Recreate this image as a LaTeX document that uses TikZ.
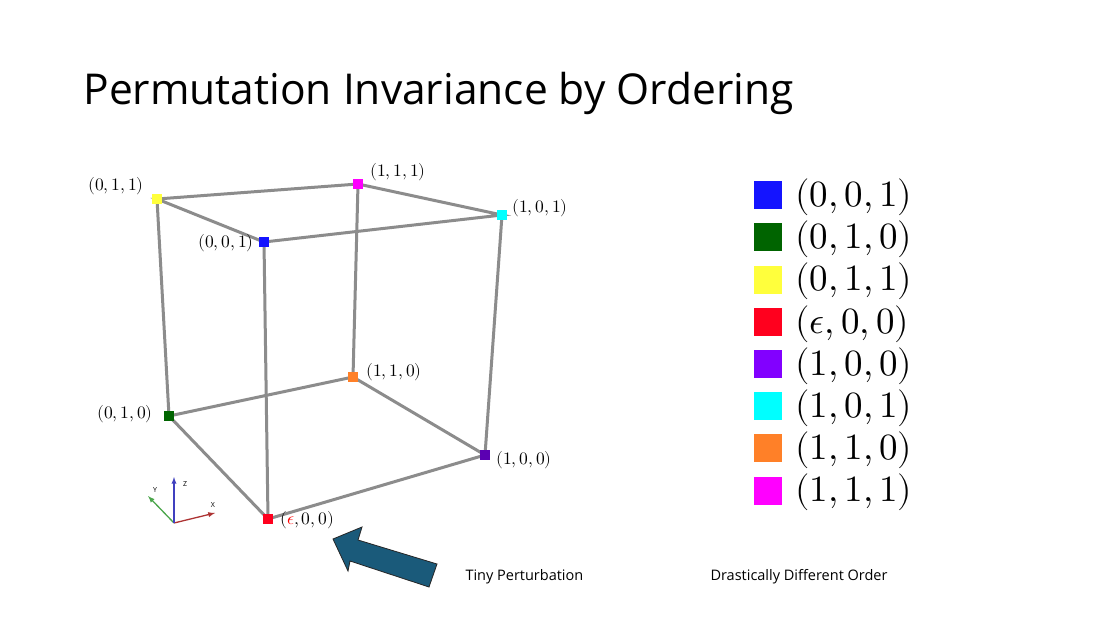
\documentclass[tikz,border=0pt]{standalone}
\usepackage{fontspec}
\usepackage{unicode-math}
\setmathfont{Latin Modern Math}
\setsansfont{Open Sans}
\definecolor{cY}{RGB}{255,255,60}\definecolor{cM}{RGB}{255,0,255}\definecolor{cC}{RGB}{0,255,255}
\definecolor{cB}{RGB}{20,20,255}\definecolor{cO}{RGB}{255,128,40}\definecolor{cG}{RGB}{0,100,0}
\definecolor{cP}{RGB}{130,0,255}\definecolor{cR}{RGB}{255,0,30}\definecolor{cA}{RGB}{26,90,122}
\begin{document}
\begin{tikzpicture}[x=1pt,y=-1pt,
  edge/.style={draw=black!45,line width=3pt},
  pt/.style={minimum size=10pt,inner sep=0pt,draw=none},
  lab/.style={font=\fontsize{17.5}{19}\selectfont,inner sep=1pt},
  leg/.style={minimum size=28pt,inner sep=0pt},
  legt/.style={font=\fontsize{37}{40}\selectfont,anchor=west,inner sep=0pt}]
\path[use as bounding box,fill=white] (0,0) rectangle (1100,618);
\node[anchor=west,font=\sffamily\fontsize{42.5}{46}\selectfont] (title) at (80,93) {Permutation Invariance by Ordering};
\coordinate (Y) at (157,199); \coordinate (M) at (358,184); \coordinate (C) at (502,215); \coordinate (B) at (264,242);
\coordinate (O) at (353,377); \coordinate (G) at (169,416); \coordinate (P) at (485,455); \coordinate (R) at (268,519);
\draw[edge] (Y)--(M)--(C)--(B)--cycle;
\draw[edge] (G)--(O)--(P)--(R)--cycle;
\draw[edge] (Y)--(G) (M)--(O) (C)--(P) (B)--(R);
\node[pt,fill=cY] (y) at (Y) {}; \node[pt,fill=cM] (m) at (M) {}; \node[pt,fill=cC] (c) at (C) {};
\node[pt,fill=cB] (b) at (B) {}; \node[pt,fill=cO] (o) at (O) {}; \node[pt,fill=cG] (g) at (G) {};
\node[pt,fill=cP!70!black] (p) at (P) {}; \node[pt,fill=cR] (r) at (R) {};
\node[lab,anchor=east] (ly) at (145,186) {$(0,1,1)$};
\node[lab,anchor=west] (lm) at (369,172) {$(1,1,1)$};
\node[lab,anchor=west] (lc) at (511,208) {$(1,0,1)$};
\node[lab,anchor=east] (lb) at (255,243) {$(0,0,1)$};
\node[lab,anchor=west] (lo) at (365,372) {$(1,1,0)$};
\node[lab,anchor=east] (lg) at (154,414) {$(0,1,0)$};
\node[lab,anchor=west] (lp) at (495,460) {$(1,0,0)$};
\node[lab,anchor=west] (lr) at (279,520) {$(\textcolor{red}{\epsilon},0,0)$};
% axes
\coordinate (ax) at (174,523);
\coordinate (axx) at (215,513); \coordinate (axy) at (148,496); \coordinate (axz) at (174,477);
\draw[-latex,red!60!black!80,line width=1.3pt] (ax)--(axx);
\draw[-latex,green!50!black!70,line width=1.3pt] (ax)--(axy);
\draw[-latex,blue!50!gray,line width=1.3pt] (ax)--(axz);
\node[font=\sffamily\fontsize{7}{8}\selectfont] (tx) at (213,505) {X};
\node[font=\sffamily\fontsize{7}{8}\selectfont] (ty) at (155,490) {Y};
\node[font=\sffamily\fontsize{7}{8}\selectfont] (tz) at (185,484) {Z};
% block arrow
\draw[fill=cA,draw=black!85,line width=0.8pt] (333,539)--(362,527)--(358,540)--(437,564)--(429,587)--(350,561)--(348,571)--cycle;
\node[anchor=west,font=\sffamily\fontsize{14.5}{17}\selectfont] (tp) at (462,577) {Tiny Perturbation};
\node[anchor=west,font=\sffamily\fontsize{14.5}{17}\selectfont] (dd) at (707,577) {Drastically Different Order};
% legend
\foreach \c/\t [count=\i] in {cB/{(0,0,1)},cG/{(0,1,0)},cY/{(0,1,1)},cR/{(\epsilon,0,0)},cP/{(1,0,0)},cC/{(1,0,1)},cO/{(1,1,0)},cM/{(1,1,1)}}{
  \node[leg,fill=\c] (k\i) at (768,153+42.2*\i) {};
  \node[legt] (kt\i) at (795,155+42.2*\i) {$\t$};
}
\end{tikzpicture}
\end{document}
